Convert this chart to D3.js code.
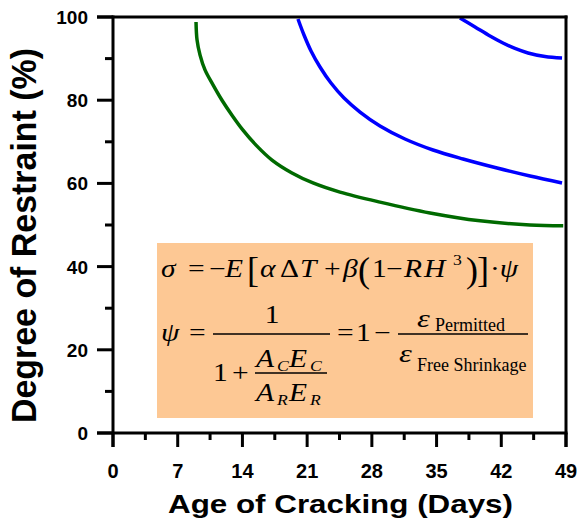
<!DOCTYPE html>
<html>
<head>
<meta charset="utf-8">
<script src="https://cdn.jsdelivr.net/npm/d3@7"></script>
<style>
  html, body { margin: 0; padding: 0; background: #fff; }
  svg { display: block; }
</style>
</head>
<body>
<svg id="chart" width="579" height="526"></svg>
<script>
// ---------- data ----------
const xMajorTicks = [0, 7, 14, 21, 28, 35, 42, 49];
const xMinorTicks = [3.5, 10.5, 17.5, 24.5, 31.5, 38.5, 45.5];
const yMajorTicks = [0, 20, 40, 60, 80, 100];
const yMinorTicks = [10, 30, 50, 70, 90];
const xTitle = "Age of Cracking (Days)";
const yTitle = "Degree of Restraint (%)";

// [age (days), degree of restraint (%)]
const greenCurve = [[8.98,98.8],[9.09,94.5],[9.41,90.9],[9.95,87.3],[10.82,83.7],[11.79,80.0],[12.87,76.4],
  [14.06,72.8],[15.47,69.2],[17.2,65.6],[19.36,62.5],[21.63,60.1],[24.55,57.9],[28.88,55.5],[34.29,52.9],
  [39.7,51.0],[45.1,50.0],[48.7,49.8]];
const blueCurve1 = [[20.01,99.52],[20.66,95.67],[21.42,91.83],[22.39,87.98],[23.58,84.13],[24.99,80.53],
  [26.72,77.16],[28.88,73.8],[31.58,70.67],[34.61,68.03],[37.86,65.87],[41.54,63.7],[45.11,61.78],[48.57,60.1]];
const blueCurve2 = [[37.53,99.76],[39.16,97.6],[40.78,95.43],[42.18,93.75],[43.48,92.43],[44.89,91.35],
  [46.73,90.5],[48.57,90.14]];

const curves = [
  {data: greenCurve, color: "#006a00"},
  {data: blueCurve1, color: "#0000ff"},
  {data: blueCurve2, color: "#0000ff"}
];

// ---------- layout ----------
const svg = d3.select("#chart");
const x = d3.scaleLinear().domain([0, 49]).range([113, 566]);
const y = d3.scaleLinear().domain([0, 100]).range([433, 17]);

// formula box
svg.append("rect").attr("x", 157).attr("y", 243).attr("width", 376).attr("height", 175)
  .attr("fill", "#fdc894");

// curves
const line = d3.line().x(d => x(d[0])).y(d => y(d[1])).curve(d3.curveCatmullRom.alpha(0.5));
curves.forEach(c => {
  svg.append("path").attr("d", line(c.data)).attr("fill", "none")
    .attr("stroke", c.color).attr("stroke-width", 3.5).attr("stroke-linecap", "butt");
});

// axes (frame style: left, bottom, top, right)
const ax = svg.append("g").attr("stroke", "#000").attr("stroke-width", 3).attr("fill", "none");
ax.append("line").attr("x1", x(0)).attr("x2", x(0)).attr("y1", y(100) - 1.5).attr("y2", y(0) + 14);
ax.append("line").attr("x1", x(0) - 16).attr("x2", x(49) + 1.5).attr("y1", y(0)).attr("y2", y(0));
ax.append("line").attr("x1", x(0) - 16).attr("x2", x(49) + 1.5).attr("y1", y(100)).attr("y2", y(100));
ax.append("line").attr("x1", x(49)).attr("x2", x(49)).attr("y1", y(100) - 1.5).attr("y2", y(0) + 14);

yMajorTicks.forEach(v => ax.append("line").attr("x1", x(0) - 16).attr("x2", x(0)).attr("y1", y(v)).attr("y2", y(v)));
yMinorTicks.forEach(v => ax.append("line").attr("x1", x(0) - 8).attr("x2", x(0)).attr("y1", y(v)).attr("y2", y(v)));
xMajorTicks.forEach(v => ax.append("line").attr("x1", x(v)).attr("x2", x(v)).attr("y1", y(0)).attr("y2", y(0) + 14));
xMinorTicks.forEach(v => ax.append("line").attr("x1", x(v)).attr("x2", x(v)).attr("y1", y(0)).attr("y2", y(0) + 7));

// tick labels
const lab = svg.append("g").attr("font-family", "Liberation Sans, Arial, sans-serif")
  .attr("font-weight", "bold").attr("fill", "#000");
yMajorTicks.forEach(v => lab.append("text").attr("x", 88).attr("y", y(v) + 7)
  .attr("text-anchor", "end").attr("font-size", 19).text(v));
xMajorTicks.forEach(v => lab.append("text").attr("x", x(v)).attr("y", 478)
  .attr("text-anchor", "middle").attr("font-size", 20).text(v));

// axis titles
lab.append("text").attr("x", 340.5).attr("y", 513).attr("text-anchor", "middle")
  .attr("font-size", 26).attr("textLength", 345).attr("lengthAdjust", "spacingAndGlyphs").text(xTitle);
lab.append("text").attr("transform", "translate(36,235.5) rotate(-90)").attr("text-anchor", "middle")
  .attr("font-size", 35).attr("textLength", 375).attr("lengthAdjust", "spacingAndGlyphs").text(yTitle);

// ---------- formula ----------
const f = svg.append("g").attr("font-family", "Liberation Serif, Times New Roman, serif").attr("fill", "#000");
function tok(t, px, py, opts = {}) {
  const sx = opts.sx || 1.18;
  const el = f.append("text").attr("transform", `translate(${px},${py}) scale(${sx},1)`)
    .attr("x", 0).attr("y", 0)
    .attr("font-size", opts.fs || 25)
    .attr("font-style", opts.it ? "italic" : "normal")
    .attr("text-anchor", opts.anchor || "start")
    .text(t);
  return el;
}
function bar(x1, x2, yy) {
  f.append("line").attr("x1", x1).attr("x2", x2).attr("y1", yy).attr("y2", yy)
    .attr("stroke", "#000").attr("stroke-width", 1.3);
}
// line 1: σ = −E[αΔT + β(1 − RH³)]·ψ
const b1 = 277;
tok("σ", 161, b1, {it: true});
tok("=", 188, b1);
tok("−", 209, b1);
tok("E", 225, b1, {it: true});
tok("[", 247, b1 + 5, {fs: 36, sx: 1});
tok("α", 260, b1, {it: true});
tok("Δ", 280, b1);
tok("T", 300, b1, {it: true});
tok("+", 324, b1);
tok("β", 343, b1, {it: true});
tok("(", 358, b1 + 5, {fs: 36, sx: 1});
tok("1", 372, b1);
tok("−", 386, b1);
tok("R", 404, b1, {it: true});
tok("H", 424, b1, {it: true});
tok("3", 453, b1 - 12, {fs: 15});
tok(")", 466, b1 + 5, {fs: 36, sx: 1});
tok("]", 477, b1 + 5, {fs: 36, sx: 1});
const dotPsi = tok("·", 490, b1);
dotPsi.append("tspan").attr("font-style", "italic").text("ψ");

// line 2
const b2 = 341;
tok("ψ", 161, b2, {it: true});
tok("=", 189, b2);
bar(213, 330, 334);
tok("1", 272, 323, {anchor: "middle"});
tok("1", 213, 381);
tok("+", 232, 381);
tok("A", 256, 367, {it: true});
tok("C", 277, 371, {it: true, fs: 15});
tok("E", 289, 367, {it: true});
tok("C", 310, 371, {it: true, fs: 15});
bar(255, 327, 373);
tok("A", 256, 401, {it: true});
tok("R", 277, 405, {it: true, fs: 15});
tok("E", 289, 401, {it: true});
tok("R", 310, 405, {it: true, fs: 15});
tok("=", 337, b2);
tok("1", 356, b2);
tok("−", 374, b2);
bar(398, 528, 334);
tok("ε", 417, 327, {it: true, fs: 26, sx: 1.25});
tok("Permitted", 435, 331, {fs: 18, sx: 1});
tok("ε", 399, 362, {it: true, fs: 26, sx: 1.25});
tok("Free Shrinkage", 417, 371, {fs: 18, sx: 1});
</script>
</body>
</html>
